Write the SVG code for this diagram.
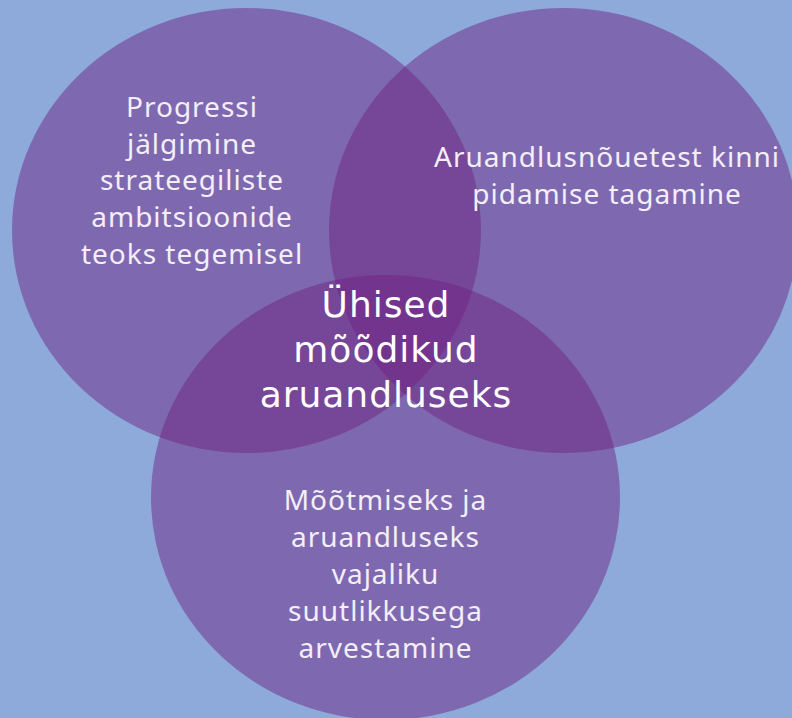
<svg xmlns="http://www.w3.org/2000/svg" width="792" height="718" viewBox="0 0 792 718">
<style>
.c{fill:#6F1F80;fill-opacity:0.47}
.t{font-family:"Noto Sans","DejaVu Sans",sans-serif;font-size:28px;fill:#F4EEF8;text-anchor:middle;letter-spacing:1px}
.h{font-family:"DejaVu Sans","Noto Sans",sans-serif;font-size:36px;fill:#FFFFFF;text-anchor:middle;letter-spacing:1px}
</style>
<rect width="792" height="718" fill="#8DAADB"/>
<g id="circle-left">
<ellipse class="c" cx="246.5" cy="230.5" rx="234.5" ry="222.5"/>
<text class="t" x="192" y="117">Progressi</text>
<text class="t" x="192" y="153.7">jälgimine</text>
<text class="t" x="192" y="190.4">strateegiliste</text>
<text class="t" x="192" y="227.1">ambitsioonide</text>
<text class="t" x="192" y="263.8">teoks tegemisel</text>
</g>
<g id="circle-right">
<ellipse class="c" cx="563.5" cy="230.5" rx="234.5" ry="222.5"/>
<text class="t" x="607" y="167">Aruandlusnõuetest kinni</text>
<text class="t" x="607" y="204">pidamise tagamine</text>
</g>
<g id="circle-bottom">
<ellipse class="c" cx="385.5" cy="497.5" rx="234.5" ry="222.5"/>
<text class="t" x="385.5" y="510">Mõõtmiseks ja</text>
<text class="t" x="385.5" y="547">aruandluseks</text>
<text class="t" x="385.5" y="584">vajaliku</text>
<text class="t" x="385.5" y="621">suutlikkusega</text>
<text class="t" x="385.5" y="658">arvestamine</text>
</g>
<g id="center">
<text class="h" x="386" y="317">Ühised</text>
<text class="h" x="386" y="362">mõõdikud</text>
<text class="h" x="386" y="407">aruandluseks</text>
</g>
<g id="connectors"/>
</svg>
